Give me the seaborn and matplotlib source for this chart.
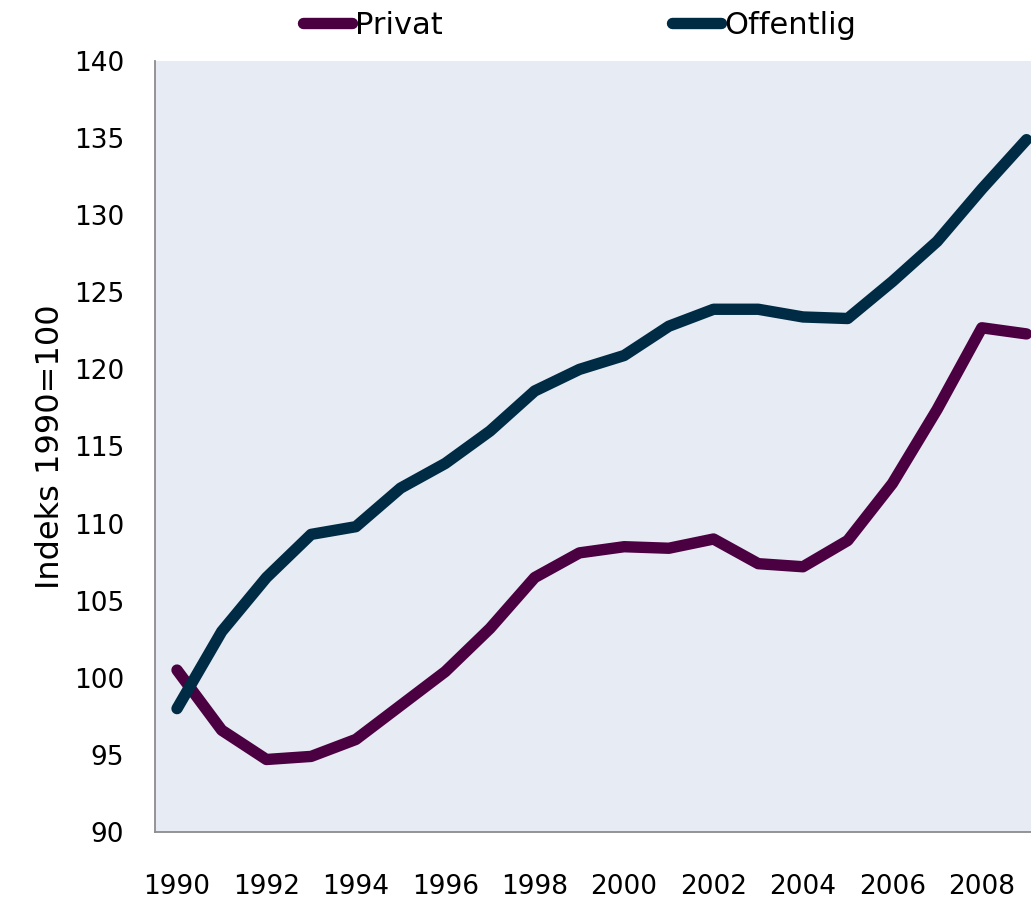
import numpy as np
import pandas as pd
import matplotlib
matplotlib.use("Agg")
import matplotlib.pyplot as plt
import seaborn as sns

# data (index, 1990=100)
years = list(range(1990, 2010))
privat = [100.5, 96.6, 94.7, 94.9, 96.0, 98.2, 100.4, 103.2, 106.5, 108.1,
          108.5, 108.4, 109.0, 107.4, 107.2, 108.9, 112.6, 117.4, 122.7, 122.3]
offentlig = [98.0, 103.0, 106.5, 109.3, 109.8, 112.3, 113.9, 116.0, 118.6, 120.0,
             120.9, 122.8, 123.9, 123.9, 123.4, 123.3, 125.7, 128.3, 131.7, 134.9]
series_names = ["Privat", "Offentlig"]
colors = ["#4B0041", "#002B45"]

df = pd.DataFrame({"year": years * 2,
                   "value": privat + offentlig,
                   "serie": [series_names[0]] * len(years) + [series_names[1]] * len(years)})

sns.set_style("white")
plt.rcParams["font.family"] = ["DejaVu Sans"]
plt.rcParams["text.color"] = "black"
plt.rcParams["xtick.color"] = "black"
plt.rcParams["ytick.color"] = "black"
plt.rcParams["axes.labelcolor"] = "black"

fig = plt.figure(figsize=(10.31, 9), dpi=100)
ax = fig.add_axes([0.150, 0.0756, 0.850, 0.8566])
ax.set_facecolor("#E7EBF3")

sns.lineplot(data=df, x="year", y="value", hue="serie", palette=colors,
             linewidth=8.2, ax=ax, solid_capstyle="round", legend=False)

ax.set_xlim(1989.5, 2009.1)
ax.set_ylim(90, 140)
ax.set_xticks(list(range(1990, 2010, 2)))
ax.set_yticks(list(range(90, 141, 5)))
ax.tick_params(axis="both", length=0, labelsize=19)
ax.tick_params(axis="x", pad=30)
ax.tick_params(axis="y", pad=22)
ax.set_xlabel("")
ax.set_ylabel("Indeks 1990=100", fontsize=23, labelpad=6)

for side in ["top", "right"]:
    ax.spines[side].set_visible(False)
for side in ["left", "bottom"]:
    ax.spines[side].set_color("#8C8C8C")
    ax.spines[side].set_linewidth(1.3)

handles = [plt.Line2D([0], [0], color=c, lw=8.2, solid_capstyle="round") for c in colors]
fig.legend(handles, series_names, loc="center", bbox_to_anchor=(0.562, 0.972),
           ncol=2, frameon=False, handlelength=1.6, handletextpad=0.1,
           columnspacing=7.5, prop={"family": ["Liberation Sans Narrow", "DejaVu Sans"], "size": 22})

fig.savefig("out.png", dpi=100)
